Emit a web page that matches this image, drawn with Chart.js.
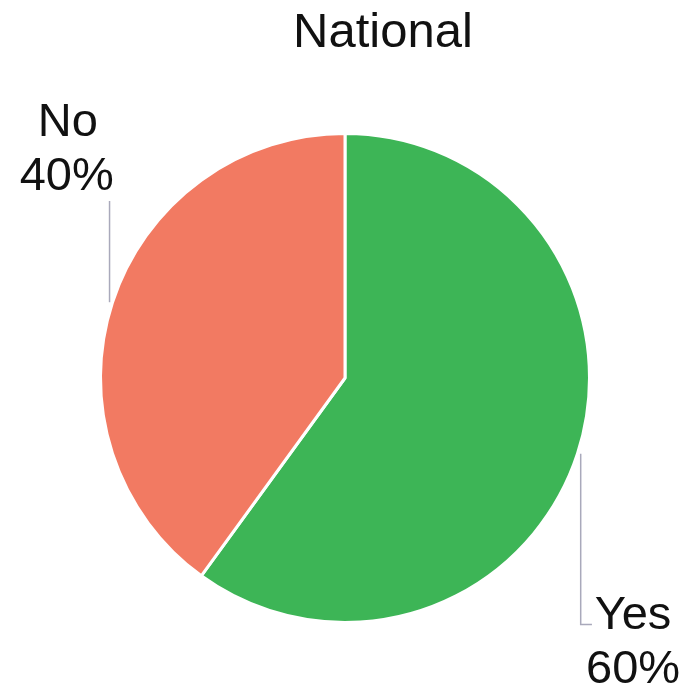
<!DOCTYPE html>
<html>
<head>
<meta charset="utf-8">
<script src="https://cdn.jsdelivr.net/npm/chart.js@4.4.0/dist/chart.umd.min.js"></script>
<style>
  html, body { margin: 0; padding: 0; background: #fff; }
  #wrap { width: 685px; height: 683px; position: relative; }
</style>
</head>
<body>
<div id="wrap"><canvas id="nationalChart"></canvas></div>
<script>
const chartTitle = 'National';
const categories = ['Yes', 'No'];
const shares = [60, 40];
const colors = ['#3db556', '#f27a62'];

// label placement per slice, relative to pie centre and radius
const labelSpots = [
    { line: [[0.964, 0.310], [0.964, 1.008], [1.010, 1.008]], text: [1.178, 1.028], shift: 0 },
    { line: [[-0.963, -0.724], [-0.963, -0.310]], text: [-1.134, -0.988], shift: -1 }
];

const labelPlugin = {
    id: 'outLabels',
    afterDraw(chart) {
        const ctx = chart.ctx;
        const meta = chart.getDatasetMeta(0);
        const arc0 = meta.data[0];
        const cx = arc0.x, cy = arc0.y, r = arc0.outerRadius;

        ctx.save();
        ctx.fillStyle = '#111111';
        ctx.font = '49px "Liberation Sans", Arial, sans-serif';
        ctx.textAlign = 'center';
        ctx.textBaseline = 'alphabetic';
        ctx.fillText(chartTitle, cx + 38, 47);

        meta.data.forEach(function (arc, i) {
            const spot = labelSpots[i];
            ctx.strokeStyle = '#a9a9bb';
            ctx.lineWidth = 1.5;
            ctx.beginPath();
            spot.line.forEach(function (p, j) {
                const x = cx + p[0] * r, y = cy + p[1] * r;
                if (j === 0) ctx.moveTo(x, y); else ctx.lineTo(x, y);
            });
            ctx.stroke();

            const tx = cx + spot.text[0] * r;
            const ty = cy + spot.text[1] * r;
            ctx.font = '47px "Liberation Sans", Arial, sans-serif';
            ctx.fillStyle = '#111111';
            ctx.textAlign = 'center';
            ctx.fillText(categories[i], tx, ty);
            ctx.fillText(shares[i] + '%', tx + spot.shift, ty + 54);
        });
        ctx.restore();
    }
};

new Chart(document.getElementById('nationalChart'), {
    type: 'pie',
    data: {
        labels: categories,
        datasets: [{
            data: shares,
            backgroundColor: colors,
            borderColor: '#ffffff',
            borderWidth: 3
        }]
    },
    options: {
        responsive: true,
        maintainAspectRatio: false,
        animation: false,
        layout: { padding: { top: 132, bottom: 59, left: 99, right: 94 } },
        plugins: {
            legend: { display: false },
            title: { display: false },
            tooltip: { enabled: false }
        }
    },
    plugins: [labelPlugin]
});
</script>
</body>
</html>
